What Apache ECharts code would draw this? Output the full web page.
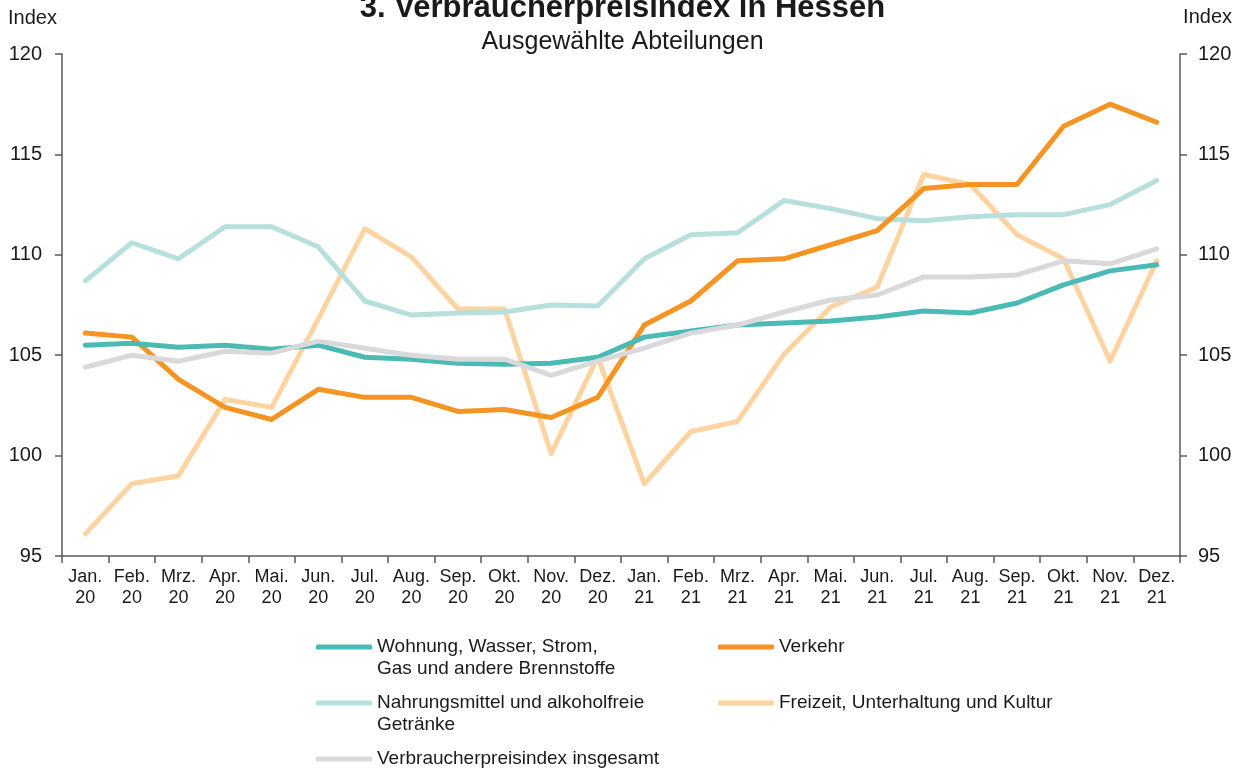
<!DOCTYPE html>
<html>
<head>
<meta charset="utf-8">
<script src="https://cdn.jsdelivr.net/npm/echarts@6/dist/echarts.min.js"></script>
<style>
  html, body { margin: 0; padding: 0; background: #fff; }
  #chart { width: 1245px; height: 771px; }
</style>
</head>
<body>
<div id="chart"></div>
<script>
// Monate Jan. 2020 bis Dez. 2021
const months = ["Jan.", "Feb.", "Mrz.", "Apr.", "Mai.", "Jun.", "Jul.", "Aug.", "Sep.", "Okt.", "Nov.", "Dez."]
const categories = [
  ...months.map((m) => m + "\n20"),
  ...months.map((m) => m + "\n21"),
]

// Indexwerte
const wohnung = [105.5, 105.6, 105.4, 105.5, 105.3, 105.5, 104.9, 104.8, 104.6, 104.55, 104.6, 104.9,
  105.9, 106.2, 106.5, 106.6, 106.7, 106.9, 107.2, 107.1, 107.6, 108.5, 109.2, 109.5]
const verkehr = [106.1, 105.9, 103.8, 102.4, 101.8, 103.3, 102.9, 102.9, 102.2, 102.3, 101.9, 102.9,
  106.5, 107.7, 109.7, 109.8, 110.5, 111.2, 113.3, 113.5, 113.5, 116.4, 117.5, 116.6]
const nahrung = [108.7, 110.6, 109.8, 111.4, 111.4, 110.4, 107.7, 107.0, 107.1, 107.15, 107.5, 107.45,
  109.8, 111.0, 111.1, 112.7, 112.3, 111.8, 111.7, 111.9, 112.0, 112.0, 112.5, 113.7]
const freizeit = [96.1, 98.6, 99.0, 102.8, 102.4, 106.8, 111.3, 109.9, 107.3, 107.3, 100.1, 104.9,
  98.6, 101.2, 101.7, 105.05, 107.4, 108.4, 114.0, 113.5, 111.0, 109.8, 104.7, 109.7]
const gesamt = [104.4, 105.0, 104.7, 105.2, 105.1, 105.7, 105.35, 105.0, 104.8, 104.8, 104.0, 104.7,
  105.35, 106.1, 106.5, 107.15, 107.75, 108.0, 108.9, 108.9, 109.0, 109.7, 109.55, 110.3]

const yTicks = [95, 100, 105, 110, 115, 120]

// Legendentexte: erste Zeile im Legendeneintrag, zweite Zeile darunter
const names = {
  wohnung: ["Wohnung, Wasser, Strom,", "Gas und andere Brennstoffe"],
  verkehr: ["Verkehr"],
  nahrung: ["Nahrungsmittel und alkoholfreie", "Getränke"],
  freizeit: ["Freizeit, Unterhaltung und Kultur"],
  gesamt: ["Verbraucherpreisindex insgesamt"],
}

const colors = {
  wohnung: "#4bbab5",
  verkehr: "#f39423",
  nahrung: "#b7dfdc",
  freizeit: "#fdd4a1",
  gesamt: "#d9d9db",
}

const font = "'Liberation Sans', Arial, sans-serif"
const textColor = "#1a1a1a"
const axisColor = "#595959"

const chart = echarts.init(document.getElementById("chart"))

const makeSeries = (key, data) => ({
  name: names[key][0],
  type: "line",
  data: data,
  symbol: "none",
  lineStyle: { color: colors[key], width: 5, cap: "round", join: "round" },
  itemStyle: { color: colors[key] },
  emphasis: { disabled: true },
})

// Legende: jeder Eintrag einzeln positioniert
const legendItem = (key, left, top) => ({
  data: [names[key][0]],
  left: left,
  top: top,
  padding: 0,
  icon: "roundRect",
  itemWidth: 56,
  itemHeight: 5,
  itemGap: 0,
  selectedMode: false,
  textStyle: { fontFamily: font, fontSize: 19, color: textColor, lineHeight: 22 },
})

const secondLine = (key, left, top) => ({
  type: "text",
  left: left,
  top: top,
  style: { text: names[key][1], font: "19px " + font, fill: textColor },
})

const option = {
  animation: false,
  backgroundColor: "#fff",
  grid: { left: 62, right: 65, top: 54, bottom: 215, containLabel: false },
  graphic: [
    { type: "text", left: "center", top: -7, style: { text: "3. Verbraucherpreisindex in Hessen", font: "bold 31px " + font, fill: textColor } },
    { type: "text", left: "center", top: 30, style: { text: "Ausgewählte Abteilungen", font: "25px " + font, fill: textColor } },
    { type: "text", left: 8, top: 8, style: { text: "Index", font: "20px " + font, fill: textColor } },
    { type: "text", right: 13, top: 7, style: { text: "Index", font: "20px " + font, fill: textColor } },
    secondLine("wohnung", 377, 659),
    secondLine("nahrung", 377, 715),
  ],
  legend: [
    legendItem("wohnung", 316, 636),
    legendItem("verkehr", 718, 636),
    legendItem("nahrung", 316, 692),
    legendItem("freizeit", 718, 692),
    legendItem("gesamt", 316, 748),
  ],
  xAxis: {
    type: "category",
    data: categories,
    boundaryGap: true,
    axisLine: { lineStyle: { color: axisColor, width: 1.5 } },
    axisTick: { show: true, length: 7, inside: false, lineStyle: { color: axisColor, width: 1.5 } },
    axisLabel: { interval: 0, fontFamily: font, fontSize: 18, color: textColor, lineHeight: 21, margin: 11 },
    splitLine: { show: false },
  },
  yAxis: [
    {
      type: "value",
      position: "left",
      min: yTicks[0],
      max: yTicks[yTicks.length - 1],
      interval: 5,
      axisLine: { show: true, lineStyle: { color: axisColor, width: 1.5 } },
      axisTick: { show: true, length: 7, lineStyle: { color: axisColor, width: 1.5 } },
      axisLabel: { fontFamily: font, fontSize: 20, color: textColor, margin: 20 },
      splitLine: { show: false },
    },
    {
      type: "value",
      position: "right",
      min: yTicks[0],
      max: yTicks[yTicks.length - 1],
      interval: 5,
      axisLine: { show: true, lineStyle: { color: axisColor, width: 1.5 } },
      axisTick: { show: true, length: 7, lineStyle: { color: axisColor, width: 1.5 } },
      axisLabel: { fontFamily: font, fontSize: 20, color: textColor, margin: 18 },
      splitLine: { show: false },
    },
  ],
  series: [
    makeSeries("freizeit", freizeit),
    makeSeries("nahrung", nahrung),
    makeSeries("verkehr", verkehr),
    makeSeries("wohnung", wohnung),
    makeSeries("gesamt", gesamt),
  ],
}

chart.setOption(option)
</script>
</body>
</html>
